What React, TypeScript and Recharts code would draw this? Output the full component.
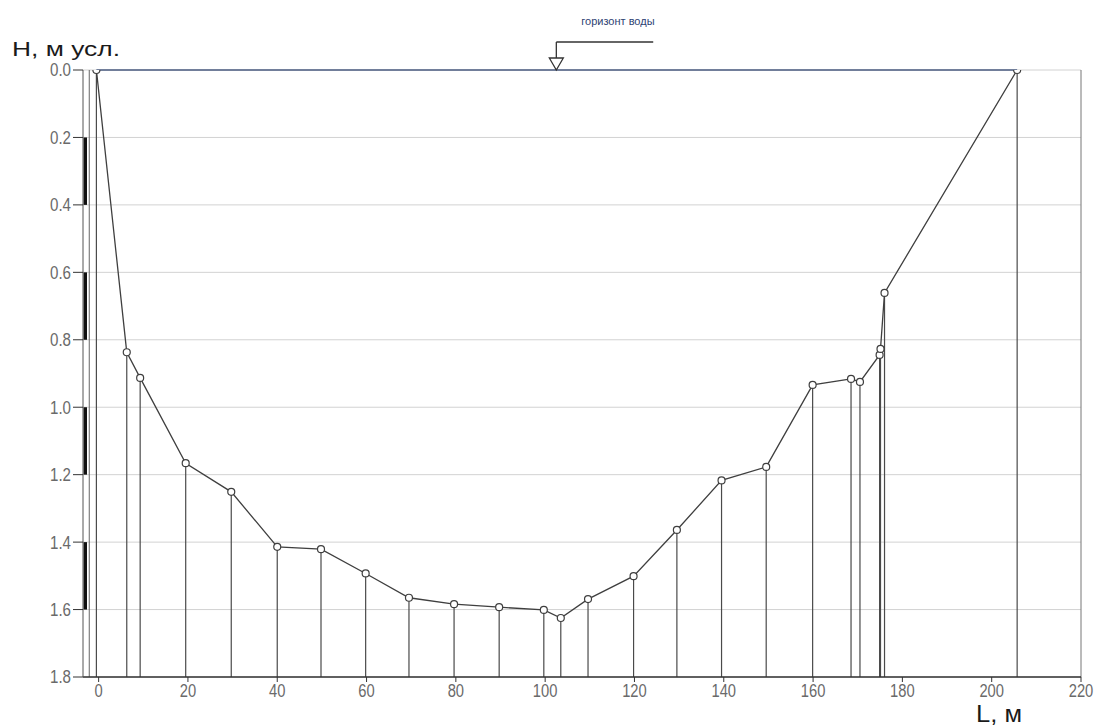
import { ComposedChart, Line, XAxis, YAxis, CartesianGrid, ReferenceLine, ReferenceDot } from "recharts";

// промеры по створу: расстояние от уреза (м) и глубина (м усл.)
const distances = [-0.5, 6.3, 9.3, 19.5, 29.7, 40, 49.8, 59.8, 69.5, 79.6, 89.7, 99.7, 103.5, 109.6, 119.8, 129.5, 139.5, 149.5, 159.9, 168.5, 170.5, 174.9, 175.1, 176, 205.7];
const depths = [0, 0.837, 0.913, 1.166, 1.251, 1.414, 1.421, 1.493, 1.565, 1.584, 1.593, 1.601, 1.625, 1.569, 1.501, 1.364, 1.217, 1.177, 0.934, 0.916, 0.925, 0.845, 0.827, 0.661, 0];

const xTicks = [0, 20, 40, 60, 80, 100, 120, 140, 160, 180, 200, 220];
const yTicks = [0, 0.2, 0.4, 0.6, 0.8, 1.0, 1.2, 1.4, 1.6, 1.8];

// рейка у левой оси: чёрные отрезки через один
const staffBands = [[0.2, 0.4], [0.6, 0.8], [1.0, 1.2], [1.4, 1.6]];

const waterLevel = 0;
const waterMarkX = 102.5;
const waterLeaderEndX = 124.2;
const waterLeaderY = -0.083;
const waterLabelX = 116.3;
const waterLabel = "горизонт воды";

const bottomDepth = 1.8;

const data = distances.map((x, i) => ({ x, depth: depths[i] }));

const tickFont = "'Liberation Sans', Arial, sans-serif";
const titleFont = "'Liberation Sans', Arial, sans-serif";

// подписи делений в старом узком шрифте
const narrowWidth = (s: string) => s.split("").reduce((w, c) => w + (c === "." ? 4.6 : 8.2), 0);

const XTick = (props: any) => {
  const { x, y, payload } = props;
  const s = String(payload.value);
  return (
    <text x={x} y={y} dy="0.71em" textAnchor="middle" fill="#6a6a6a" fontSize={18} fontFamily={tickFont}
      textLength={narrowWidth(s)} lengthAdjust="spacingAndGlyphs">
      {s}
    </text>
  );
};

const YTick = (props: any) => {
  const { x, y, payload } = props;
  const s = Number(payload.value).toFixed(1);
  return (
    <text x={x} y={y} dy="0.355em" textAnchor="end" fill="#6a6a6a" fontSize={18} fontFamily={tickFont}
      textLength={narrowWidth(s)} lengthAdjust="spacingAndGlyphs">
      {s}
    </text>
  );
};

const Triangle = (props: any) => {
  const { cx, cy } = props;
  if (cx == null || cy == null) return null;
  return (
    <path
      d={`M${cx - 7},${cy - 12} L${cx + 7},${cy - 12} L${cx},${cy} Z`}
      fill="#fff"
      stroke="#333"
      strokeWidth={1.3}
    />
  );
};

export default function App() {
  return (
    <div style={{ position: "absolute", left: 0, top: 0, background: "#fff" }}>
      <ComposedChart width={1103} height={726} data={data} margin={{ top: 70, right: 22, bottom: 0, left: 0 }}>
        <CartesianGrid vertical={false} stroke="#d2d2d2" />
        <XAxis
          type="number"
          dataKey="x"
          domain={[-3.5, 220]}
          ticks={xTicks}
          allowDataOverflow
          height={49}
          tickSize={5}
          tickMargin={2}
          axisLine={{ stroke: "#333", strokeWidth: 1.5 }}
          tickLine={{ stroke: "#333" }}
          tick={<XTick />}
        />
        <YAxis
          type="number"
          reversed
          domain={[0, 1.8]}
          ticks={yTicks}
          allowDataOverflow
          width={83}
          tickSize={10}
          tickMargin={2}
          axisLine={{ stroke: "#555" }}
          tickLine={{ stroke: "#333" }}
          tick={<YTick />}
        />

        <ReferenceLine x={220} stroke="#777" />
        <ReferenceLine x={-2.1} stroke="#666" />
        {staffBands.map(([a, b]) => (
          <ReferenceLine
            key={a}
            segment={[{ x: -3.0, y: a }, { x: -3.0, y: b }]}
            stroke="#111"
            strokeWidth={3.5}
          />
        ))}

        {distances.map((x, i) => (
          <ReferenceLine
            key={"v" + i}
            segment={[{ x, y: depths[i] }, { x, y: bottomDepth }]}
            stroke="#4a4a4a"
            strokeWidth={1.2}
          />
        ))}

        {/* урез / горизонт воды */}
        <ReferenceLine
          segment={[{ x: distances[0], y: waterLevel }, { x: distances[distances.length - 1], y: waterLevel }]}
          stroke="#4a5b80"
          strokeWidth={1.6}
        />
        <ReferenceLine
          segment={[{ x: waterMarkX, y: waterLevel }, { x: waterMarkX, y: waterLeaderY }]}
          stroke="#333"
          strokeWidth={1.3}
          ifOverflow="visible"
        />
        <ReferenceLine
          segment={[{ x: waterMarkX, y: waterLeaderY }, { x: waterLeaderEndX, y: waterLeaderY }]}
          stroke="#333"
          strokeWidth={1.3}
          ifOverflow="visible"
        />
        <ReferenceDot x={waterMarkX} y={waterLevel} r={7} shape={Triangle} ifOverflow="visible" />
        <ReferenceDot
          x={waterLabelX}
          y={waterLeaderY}
          r={0}
          fill="none"
          stroke="none"
          ifOverflow="visible"
          label={{ value: waterLabel, position: "top", offset: 17, fill: "#2e4373", fontSize: 11, fontFamily: titleFont }}
        />

        <Line
          dataKey="depth"
          type="linear"
          stroke="#3f3f3f"
          strokeWidth={1.3}
          dot={{ r: 3.5, fill: "#fff", stroke: "#3f3f3f", strokeWidth: 1.2 }}
          isAnimationActive={false}
        />

        <text x={12} y={56} fontSize={21} fontFamily={titleFont} fill="#1a1a1a" textLength={108} lengthAdjust="spacingAndGlyphs">
          Н, м усл.
        </text>
        <text x={976} y={722} fontSize={23} fontFamily={titleFont} fill="#1a1a1a" textLength={46} lengthAdjust="spacingAndGlyphs">
          L, м
        </text>
      </ComposedChart>
    </div>
  );
}
